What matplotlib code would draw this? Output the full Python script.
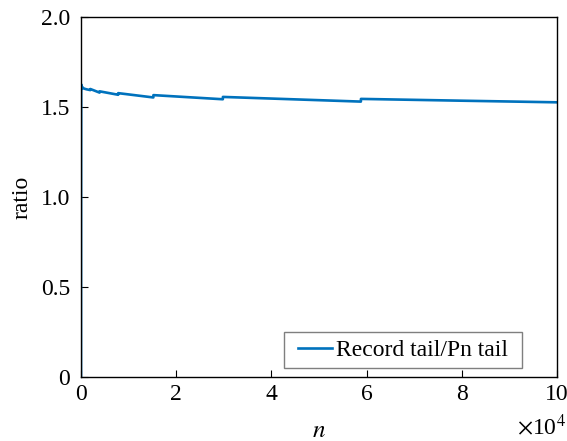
import matplotlib.pyplot as plt
from matplotlib.patches import Rectangle
import numpy as np

# record tail / Pn tail ratio, read at segment ends (jumps roughly at each doubling)
n_vals = [0, 20, 40, 60, 90, 130, 200, 300, 500, 800, 1200, 1950,
          1960, 3900, 3910, 7800, 7810, 15200, 15210, 29800, 29810,
          58800, 58810, 80000, 100000]
ratio_vals = [0.0, 1.20, 1.58, 1.625, 1.60, 1.615, 1.605, 1.610, 1.604, 1.601, 1.598, 1.594,
              1.600, 1.580, 1.587, 1.568, 1.577, 1.553, 1.566, 1.543, 1.556,
              1.530, 1.545, 1.535, 1.526]

xticks = [0, 2e4, 4e4, 6e4, 8e4, 10e4]
xtick_labels = ['0', '2', '4', '6', '8', '10']
yticks = [0, 0.5, 1.0, 1.5, 2.0]
ytick_labels = ['0', '0.5', '1.0', '1.5', '2.0']

plt.rcParams['font.family'] = ['Liberation Serif', 'DejaVu Serif']
plt.rcParams['mathtext.fontset'] = 'stix'

W, H = 567, 441
fig = plt.figure(figsize=(W / 100, H / 100), dpi=100)
ax = fig.add_axes([81 / W, 1 - 377 / H, (557 - 81) / W, (377 - 17) / H])

ax.plot(n_vals, ratio_vals, color='#0072BD', lw=1.9, label='Record tail/Pn tail')

ax.set_xlim(0, 1e5)
ax.set_ylim(0, 2)
ax.set_xticks(xticks)
ax.set_xticklabels(xtick_labels)
ax.set_yticks(yticks)
ax.set_yticklabels(ytick_labels)
ax.tick_params(axis='x', direction='in', length=5, width=0.8, labelsize=17, pad=5)
ax.tick_params(axis='y', direction='in', length=5, width=0.8, labelsize=17, pad=8)
for s in ax.spines.values():
    s.set_linewidth(1.0)

ax.set_xlabel('$n$', fontsize=18, labelpad=11)
ax.set_ylabel('ratio', fontsize=17, labelpad=6)
fig.text(566 / W, 1 / H, r'$\times$10$^4$', ha='right', va='bottom', fontsize=17)

# legend box, MATLAB style with wide side padding
bx0, by0, bx1, by1 = 284 / W, 1 - 368 / H, 522 / W, 1 - 332 / H
fig.patches.append(Rectangle((bx0, by0), bx1 - bx0, by1 - by0, transform=fig.transFigure,
                             facecolor='white', edgecolor='#7f7f7f', lw=1.0, zorder=4))
leg = fig.legend(*ax.get_legend_handles_labels(), loc='center', fontsize=17, frameon=False,
                 handlelength=1.45, handletextpad=0.2, borderpad=0, borderaxespad=0,
                 bbox_to_anchor=((bx0 + bx1) / 2, (by0 + by1) / 2))
leg.set_zorder(5)

fig.savefig('out.png', dpi=100)
